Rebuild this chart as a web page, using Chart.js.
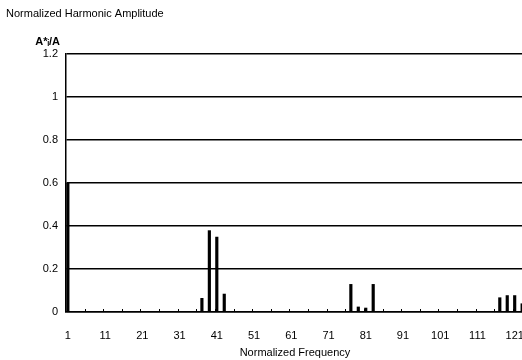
<!DOCTYPE html>
<html>
<head>
<meta charset="utf-8">
<script src="https://cdn.jsdelivr.net/npm/chart.js@4.4.1/dist/chart.umd.min.js"></script>
<style>
  html, body { margin: 0; padding: 0; background: #fff; overflow: hidden; }
  #wrap { width: 524px; height: 360px; }
</style>
</head>
<body>
<div id="wrap"><canvas id="harmChart"></canvas></div>
<script>
// harmonic orders on the axis: 1 .. 123
const frequencies = Array.from({ length: 123 }, (_, i) => i + 1);
// harmonics that carry a visible amplitude, and the amplitude
const harmonics = [1, 37, 39, 41, 43, 77, 79, 81, 83, 117, 119, 121, 123];
const amplitudes = [0.6, 0.065, 0.38, 0.35, 0.085, 0.13, 0.025, 0.02, 0.13, 0.068, 0.078, 0.078, 0.04];
const yTicks = [0, 0.2, 0.4, 0.6, 0.8, 1, 1.2];

const values = frequencies.map(f => {
    const k = harmonics.indexOf(f);
    return k >= 0 ? amplitudes[k] : null;
});

const FONT = "'Liberation Sans', Arial, sans-serif";

// header texts and the small tick marks every 5 categories
const extras = {
    id: "extras",
    afterDraw(chart) {
        const ctx = chart.ctx;
        const x = chart.scales.x;
        const area = chart.chartArea;
        ctx.save();
        ctx.strokeStyle = "#000";
        ctx.lineWidth = 1;
        for (let k = 5; k < frequencies.length; k += 5) {
            const px = (x.getPixelForValue(k - 1) + x.getPixelForValue(k)) / 2;
            ctx.beginPath();
            ctx.moveTo(Math.round(px) + 0.5, area.bottom);
            ctx.lineTo(Math.round(px) + 0.5, area.bottom - 3);
            ctx.stroke();
        }
        ctx.fillStyle = "#000";
        ctx.textBaseline = "middle";
        ctx.textAlign = "left";
        ctx.font = "11px " + FONT;
        ctx.fillText("Normalized Harmonic Amplitude", 6, 14);
        ctx.font = "bold 11px " + FONT;
        ctx.textAlign = "right";
        ctx.fillText("A*\u1D62/A", 60, 42);
        ctx.restore();
    }
};

new Chart(document.getElementById("harmChart").getContext("2d"), {
    type: "bar",
    data: {
        labels: frequencies,
        datasets: [{
            data: values,
            backgroundColor: "#000",
            borderWidth: 0,
            barPercentage: 0.85,
            categoryPercentage: 1.0,
        }],
    },
    options: {
        responsive: true,
        maintainAspectRatio: false,
        animation: false,
        layout: { padding: { top: 54, right: 0, left: 0, bottom: 0 } },
        plugins: {
            legend: { display: false },
            tooltip: { enabled: false },
        },
        scales: {
            x: {
                grid: { display: false },
                border: { color: "#000", width: 1.5 },
                ticks: {
                    autoSkip: false,
                    maxRotation: 0,
                    padding: 9,
                    color: "#000",
                    font: { family: FONT, size: 11 },
                    callback: (v, i) => (i % 10 === 0 ? frequencies[i] : ""),
                },
                title: {
                    display: true,
                    text: "Normalized Frequency",
                    color: "#000",
                    font: { family: FONT, size: 11 },
                    padding: { top: 6, bottom: 0 },
                },
                afterFit: s => { s.height = 48; s.paddingLeft = 0; s.paddingRight = 0; },
            },
            y: {
                min: 0,
                max: 1.2,
                afterBuildTicks: s => { s.ticks = yTicks.map(v => ({ value: v })); },
                grid: { color: "#000", lineWidth: 1.5, drawTicks: false },
                border: { color: "#000", width: 1.5 },
                ticks: {
                    padding: 8,
                    color: "#000",
                    font: { family: FONT, size: 11 },
                    callback: v => String(Number(v.toFixed(1))),
                },
                afterFit: s => { s.width = 66; },
            },
        },
    },
    plugins: [extras],
});
</script>
</body>
</html>
